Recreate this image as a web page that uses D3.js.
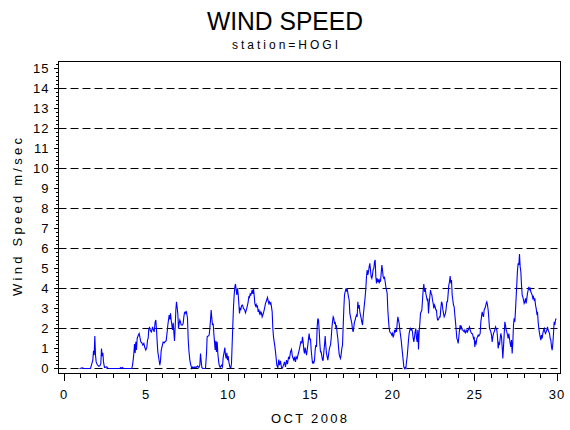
<!DOCTYPE html>
<html>
<head>
<meta charset="utf-8">
<script src="https://cdn.jsdelivr.net/npm/d3@7"></script>
<style>
  html, body { margin: 0; padding: 0; background: #fff; }
  svg { display: block; }
  text { font-family: "Liberation Sans", Arial, sans-serif; fill: #000; }
</style>
</head>
<body>
<svg id="chart" width="570" height="430"></svg>
<script>
const titleText = "WIND SPEED";
const subtitleText = "station=HOGI";
const xAxisLabel = "OCT 2008";
const yAxisLabel = "Wind Speed m/sec";

const xTickLabels = [0, 5, 10, 15, 20, 25, 30];
const xMinorTicks = [1,2,3,4,6,7,8,9,11,12,13,14,16,17,18,19,21,22,23,24,26,27,28,29];
const yTickLabels = [0,1,2,3,4,5,6,7,8,9,10,11,12,13,14,15];
const gridValues = [0, 2, 4, 6, 8, 10, 12, 14];

// [day, wind speed m/sec]
const readings = [
[0.974,0],[1.156,0.03],[1.237,0],[1.643,0],[1.785,0.42],[1.826,0.88],[1.866,0.67],[1.907,1.62],[1.947,0.67],[1.988,0.33],
[2.049,0.2],[2.130,0.12],[2.211,0.13],[2.272,0.25],[2.312,1.0],[2.353,0.62],[2.394,0.78],[2.434,0.33],[2.495,0.05],[2.576,0.07],
[2.637,0.08],[2.718,0],[3.428,0],[3.489,0.05],[3.550,0],[3.590,0.05],[3.651,0],[4.158,0],[4.199,0.17],[4.239,0.42],
[4.280,0.75],[4.320,1.22],[4.361,0.78],[4.402,1.33],[4.442,0.92],[4.483,1.5],[4.544,1.65],[4.604,1.75],[4.645,1.58],[4.706,1.33],
[4.767,1.28],[4.828,1.17],[4.888,1.25],[4.949,1.05],[5.010,0.92],[5.071,1.05],[5.112,1.42],[5.152,1.5],[5.193,2.0],[5.233,2.05],
[5.294,1.88],[5.355,1.83],[5.416,2.08],[5.477,1.92],[5.517,1.83],[5.578,2.33],[5.619,2.42],[5.659,1.95],[5.700,1.33],[5.740,0.83],
[5.801,0.5],[5.862,0.17],[5.903,0.38],[5.943,0.88],[6.004,1.12],[6.065,1.32],[6.126,1.28],[6.187,1.35],[6.247,1.38],[6.308,1.83],
[6.349,2.17],[6.389,2.42],[6.430,2.67],[6.471,2.45],[6.511,2.75],[6.552,2.42],[6.592,2.17],[6.633,1.92],[6.673,2.28],[6.714,1.83],
[6.755,1.38],[6.795,2.05],[6.836,2.92],[6.876,3.33],[6.917,3.05],[6.957,2.72],[6.998,2.0],[7.039,2.25],[7.079,2.42],[7.120,2.33],
[7.160,2.17],[7.241,2.17],[7.282,2.25],[7.323,2.58],[7.363,2.78],[7.404,2.83],[7.444,2.75],[7.485,2.82],[7.546,2.5],[7.586,1.5],
[7.627,0.92],[7.688,0.42],[7.749,0.17],[7.809,0],[7.870,0.08],[7.931,0.03],[7.992,0.08],[8.073,0.05],[8.154,0.12],[8.235,0.05],
[8.296,0.17],[8.337,0.75],[8.377,0.38],[8.418,0.05],[8.479,0],[8.641,0],[8.702,0.75],[8.742,1.58],[8.803,1.62],[8.864,1.67],
[8.905,2.0],[8.945,2.42],[8.986,2.92],[9.026,2.5],[9.067,2.17],[9.108,2.25],[9.148,1.75],[9.189,1.33],[9.229,0.92],[9.270,1.38],
[9.310,0.83],[9.351,1.33],[9.392,0.75],[9.432,0.42],[9.473,0.17],[9.533,0.05],[9.615,0.17],[9.675,0.08],[9.716,0.55],[9.777,0.83],
[9.817,1.05],[9.858,0.67],[9.899,0.5],[9.939,0.78],[9.980,0.42],[10.020,0.62],[10.061,0.33],[10.122,0.08],[10.183,0.03],[10.223,0.25],
[10.264,1.25],[10.304,2.17],[10.345,3.08],[10.385,3.67],[10.426,4.08],[10.467,4.22],[10.507,3.92],[10.548,3.67],[10.588,4.0],[10.629,3.72],
[10.669,3.25],[10.710,2.75],[10.751,3.0],[10.791,2.95],[10.832,3.12],[10.872,3.17],[10.913,3.12],[10.953,3.0],[11.014,2.95],[11.075,2.78],
[11.136,2.95],[11.197,3.17],[11.237,3.33],[11.278,3.58],[11.318,3.55],[11.359,3.72],[11.400,3.67],[11.440,3.78],[11.481,3.92],[11.521,3.72],
[11.562,4.0],[11.602,3.67],[11.643,3.25],[11.684,3.12],[11.724,3.2],[11.765,3.08],[11.805,3.12],[11.846,2.83],[11.886,2.95],[11.927,2.75],
[11.968,2.83],[12.008,2.72],[12.049,2.78],[12.089,2.58],[12.130,2.67],[12.170,2.78],[12.211,2.92],[12.252,3.08],[12.292,3.25],[12.333,3.33],
[12.373,3.45],[12.414,3.55],[12.454,3.38],[12.495,3.25],[12.535,3.33],[12.576,3.22],[12.617,3.28],[12.657,3.08],[12.698,2.83],[12.738,2.0],
[12.779,1.58],[12.820,1.33],[12.860,1.12],[12.901,0.83],[12.941,0.5],[12.982,0.17],[13.043,0.03],[13.103,0.45],[13.144,0.17],[13.205,0.38],
[13.266,0.05],[13.327,0.03],[13.387,0.17],[13.448,0.33],[13.509,0.08],[13.570,0.42],[13.631,0.22],[13.692,0.55],[13.753,0.5],[13.814,0.83],
[13.874,0.95],[13.915,0.67],[13.955,0.55],[14.016,0.42],[14.057,0.58],[14.118,0.33],[14.158,0.58],[14.219,0.5],[14.280,0.72],[14.341,0.92],
[14.381,1.08],[14.442,1.33],[14.503,1.28],[14.544,1.58],[14.584,1.33],[14.625,0.92],[14.665,0.75],[14.706,1.05],[14.747,0.83],[14.787,0.67],
[14.828,0.92],[14.868,1.17],[14.909,1.5],[14.949,1.75],[14.990,1.42],[15.031,1.5],[15.071,0.92],[15.112,0.58],[15.152,0.25],[15.193,0.33],
[15.233,0.28],[15.274,0.42],[15.314,0.92],[15.355,1.17],[15.396,1.08],[15.436,2.08],[15.477,2.5],[15.517,2.42],[15.558,1.92],[15.598,1.25],
[15.639,0.83],[15.680,0.83],[15.720,0.62],[15.761,0.42],[15.801,0.42],[15.842,0.83],[15.882,1.17],[15.923,1.62],[15.963,1.12],[16.004,0.75],
[16.045,0.58],[16.085,0.42],[16.126,0.67],[16.166,0.92],[16.207,1.08],[16.247,1.17],[16.288,1.5],[16.329,2.0],[16.369,2.33],[16.410,2.58],
[16.450,2.5],[16.491,2.22],[16.531,2.33],[16.572,2.08],[16.613,2.12],[16.653,1.75],[16.694,1.5],[16.734,1.08],[16.775,0.72],[16.815,0.58],
[16.856,0.5],[16.897,0.72],[16.937,1.0],[16.978,1.17],[17.018,2.08],[17.059,3.0],[17.099,3.67],[17.140,3.83],[17.181,3.95],[17.221,3.88],
[17.262,4.0],[17.302,3.78],[17.343,3.58],[17.383,3.42],[17.424,2.75],[17.465,2.58],[17.505,2.42],[17.546,2.25],[17.586,1.95],[17.627,1.83],
[17.667,2.08],[17.708,2.33],[17.749,2.42],[17.789,2.58],[17.830,2.67],[17.870,2.58],[17.911,3.33],[17.951,3.0],[17.992,3.17],[18.032,2.83],
[18.073,2.67],[18.114,2.5],[18.154,2.33],[18.195,2.17],[18.235,2.58],[18.276,2.92],[18.316,3.25],[18.357,3.58],[18.398,4.0],[18.438,4.58],
[18.479,4.92],[18.519,4.67],[18.560,4.83],[18.600,5.08],[18.641,5.25],[18.682,4.92],[18.722,4.58],[18.763,4.5],[18.803,4.67],[18.844,4.95],
[18.884,5.0],[18.925,5.33],[18.966,5.42],[19.006,4.58],[19.047,4.25],[19.087,4.5],[19.128,4.33],[19.168,4.45],[19.209,4.25],[19.250,4.42],
[19.290,4.33],[19.331,4.75],[19.371,5.17],[19.412,4.92],[19.452,4.58],[19.493,4.5],[19.534,4.55],[19.574,4.33],[19.615,4.08],[19.655,3.92],
[19.696,3.75],[19.736,2.92],[19.777,2.42],[19.817,2.0],[19.858,1.83],[19.899,1.78],[19.939,1.75],[19.980,1.67],[20.020,1.75],[20.061,1.55],
[20.101,1.67],[20.142,1.92],[20.183,1.83],[20.223,1.92],[20.264,1.83],[20.304,2.25],[20.345,2.58],[20.385,2.42],[20.426,2.25],[20.467,1.92],
[20.507,1.67],[20.548,1.42],[20.588,1.08],[20.629,0.75],[20.669,0.42],[20.710,0.08],[20.751,0],[20.791,0.05],[20.832,0],[20.872,0.33],
[20.913,0.58],[20.953,1.0],[20.994,1.42],[21.034,1.75],[21.075,1.92],[21.116,2.0],[21.156,1.92],[21.197,1.95],[21.237,1.83],[21.278,1.5],
[21.318,1.33],[21.359,1.58],[21.400,1.83],[21.440,2.0],[21.481,1.5],[21.521,1.33],[21.562,1.92],[21.602,0.95],[21.643,1.83],[21.684,2.25],
[21.724,2.75],[21.765,2.83],[21.805,2.92],[21.846,3.42],[21.886,3.92],[21.927,4.22],[21.968,3.83],[22.008,4.0],[22.049,3.75],[22.089,3.58],
[22.130,3.42],[22.170,3.5],[22.211,2.75],[22.252,3.25],[22.292,3.58],[22.333,3.92],[22.373,3.75],[22.414,3.67],[22.454,3.42],[22.495,3.25],
[22.535,3.0],[22.576,3.17],[22.617,3.08],[22.657,2.92],[22.698,2.92],[22.718,2.67],[22.759,2.42],[22.799,2.42],[22.840,2.5],[22.881,2.58],
[22.921,2.58],[22.962,3.0],[23.002,3.33],[23.043,3.25],[23.083,2.95],[23.124,2.75],[23.164,2.58],[23.205,2.67],[23.245,2.75],[23.286,3.0],
[23.327,3.33],[23.367,3.33],[23.408,3.75],[23.448,4.17],[23.489,4.33],[23.529,4.62],[23.570,4.25],[23.611,4.42],[23.651,3.67],[23.692,3.42],
[23.732,3.17],[23.773,3.08],[23.813,2.67],[23.854,2.33],[23.895,1.92],[23.935,1.5],[23.976,1.42],[24.016,1.25],[24.057,1.58],[24.097,1.92],
[24.138,2.17],[24.178,2.0],[24.219,2.08],[24.260,1.92],[24.300,1.92],[24.341,1.88],[24.381,1.83],[24.422,1.92],[24.462,1.78],[24.503,1.83],
[24.544,1.92],[24.584,1.83],[24.625,1.92],[24.665,2.0],[24.706,2.08],[24.746,1.92],[24.787,1.83],[24.828,1.75],[24.868,1.75],[24.909,1.67],
[24.949,1.5],[24.990,1.58],[25.030,1.08],[25.071,1.33],[25.111,1.25],[25.152,1.5],[25.193,1.58],[25.233,1.67],[25.274,1.62],[25.314,1.67],
[25.355,1.75],[25.396,2.33],[25.436,2.58],[25.477,2.83],[25.517,2.67],[25.558,2.58],[25.598,2.92],[25.639,3.0],[25.680,3.08],[25.720,3.25],
[25.761,3.33],[25.801,3.17],[25.842,2.92],[25.882,2.5],[25.923,2.0],[25.963,1.92],[26.004,1.83],[26.045,1.67],[26.085,1.33],[26.126,1.58],
[26.166,1.75],[26.207,1.83],[26.247,1.92],[26.288,2.08],[26.329,2.0],[26.369,1.92],[26.410,1.58],[26.450,1.0],[26.491,1.25],[26.531,1.17],
[26.572,1.5],[26.613,1.75],[26.653,1.58],[26.694,1.08],[26.734,0.5],[26.775,1.08],[26.815,1.67],[26.856,2.33],[26.897,2.17],[26.937,1.92],
[26.978,1.83],[27.018,1.67],[27.059,1.5],[27.099,1.75],[27.140,1.5],[27.181,1.25],[27.221,1.08],[27.262,1.42],[27.302,0.75],[27.343,1.33],
[27.383,2.17],[27.424,2.5],[27.465,2.33],[27.505,2.92],[27.546,3.58],[27.586,4.25],[27.627,4.92],[27.667,5.25],[27.708,5.17],[27.748,5.72],
[27.789,5.08],[27.830,4.83],[27.870,4.17],[27.911,3.67],[27.951,3.58],[27.992,3.42],[28.032,3.25],[28.073,3.33],[28.114,3.5],[28.154,3.25],
[28.195,3.5],[28.235,3.75],[28.276,3.92],[28.316,4.08],[28.357,3.95],[28.398,4.0],[28.438,3.83],[28.479,3.75],[28.519,3.67],[28.560,3.5],
[28.600,3.58],[28.641,3.42],[28.682,3.5],[28.722,3.17],[28.763,3.0],[28.803,2.75],[28.844,2.83],[28.884,2.33],[28.925,2.0],[28.966,1.75],
[29.006,1.58],[29.047,1.42],[29.087,1.67],[29.128,1.5],[29.168,1.75],[29.209,1.92],[29.250,2.0],[29.290,1.83],[29.331,1.75],[29.371,1.83],
[29.412,1.92],[29.452,2.08],[29.493,1.92],[29.534,1.83],[29.574,1.75],[29.615,1.5],[29.655,1.42],[29.696,1.08],[29.736,0.92],[29.777,1.25],
[29.817,1.75],[29.858,2.33],[29.898,2.17],[29.939,2.42],[29.980,2.5]
];

const svg = d3.select("#chart");
svg.append("rect").attr("width", 570).attr("height", 430).attr("fill", "#fff");

const frame = { left: 58.5, right: 560.5, top: 61.5, bottom: 373.5 };

const x = d3.scaleLinear().domain([0, 30]).range([63.5, 556.5]);
const y = d3.scaleLinear().domain([-0.25, 15.33]).range([frame.bottom, frame.top]);

// Titles
svg.append("text")
  .attr("x", 285).attr("y", 30)
  .attr("text-anchor", "middle")
  .attr("font-size", 26)
  .attr("textLength", 156).attr("lengthAdjust", "spacingAndGlyphs")
  .text(titleText);

svg.append("text")
  .attr("x", 285).attr("y", 49)
  .attr("text-anchor", "middle")
  .attr("font-size", 12)
  .attr("textLength", 106).attr("lengthAdjust", "spacing")
  .text(subtitleText);

// Gridlines
svg.append("g").selectAll("line").data(gridValues).join("line")
  .attr("x1", frame.left).attr("x2", frame.right - 3)
  .attr("y1", d => Math.round(y(d)) + 0.5).attr("y2", d => Math.round(y(d)) + 0.5)
  .attr("stroke", "#000").attr("stroke-width", 1)
  .attr("stroke-dasharray", "8,4");

// Data line
const line = d3.line().x(d => x(d[0])).y(d => y(d[1]));
svg.append("path")
  .datum(readings)
  .attr("d", line)
  .attr("fill", "none")
  .attr("stroke", "#0000ff")
  .attr("stroke-width", 1.1);

// Frame
svg.append("rect")
  .attr("x", frame.left).attr("y", frame.top)
  .attr("width", frame.right - frame.left).attr("height", frame.bottom - frame.top)
  .attr("fill", "none").attr("stroke", "#000").attr("stroke-width", 1);

// X axis (major + minor)
const xAxisMajor = d3.axisBottom(x).tickValues(xTickLabels).tickSize(7).tickPadding(9).tickFormat(d3.format("d"));
const gx = svg.append("g").attr("transform", `translate(0,${frame.bottom})`).call(xAxisMajor);
gx.select(".domain").remove();
gx.selectAll("text").attr("font-size", 13).attr("font-family", "Liberation Sans, Arial, sans-serif").attr("letter-spacing", 1);

const xAxisMinor = d3.axisBottom(x).tickValues(xMinorTicks).tickSize(4).tickFormat("");
const gxm = svg.append("g").attr("transform", `translate(0,${frame.bottom})`).call(xAxisMinor);
gxm.select(".domain").remove();

// Y axis (major + minor)
const yMinor = [];
yTickLabels.forEach(v => { [0.2, 0.4, 0.6, 0.8].forEach(f => { if (v + f <= 15.3) yMinor.push(+(v + f).toFixed(1)); }); });
const yAxisMajor = d3.axisLeft(y).tickValues(yTickLabels).tickSize(5).tickPadding(4).tickFormat(d3.format("d"));
const gy = svg.append("g").attr("transform", `translate(${frame.left},0)`).call(yAxisMajor);
gy.select(".domain").remove();
gy.selectAll("text").attr("font-size", 13).attr("font-family", "Liberation Sans, Arial, sans-serif").attr("letter-spacing", 1);

const yAxisMinor = d3.axisLeft(y).tickValues(yMinor).tickSize(3).tickFormat("");
const gym = svg.append("g").attr("transform", `translate(${frame.left},0)`).call(yAxisMinor);
gym.select(".domain").remove();

svg.selectAll(".tick line").attr("shape-rendering", "crispEdges");

// Axis labels
svg.append("text")
  .attr("x", 309).attr("y", 423)
  .attr("text-anchor", "middle")
  .attr("font-size", 13)
  .attr("textLength", 76).attr("lengthAdjust", "spacing")
  .text(xAxisLabel);

svg.append("text")
  .attr("transform", "translate(22,217) rotate(-90)")
  .attr("text-anchor", "middle")
  .attr("font-size", 13)
  .attr("textLength", 158).attr("lengthAdjust", "spacing")
  .text(yAxisLabel);
</script>
</body>
</html>
